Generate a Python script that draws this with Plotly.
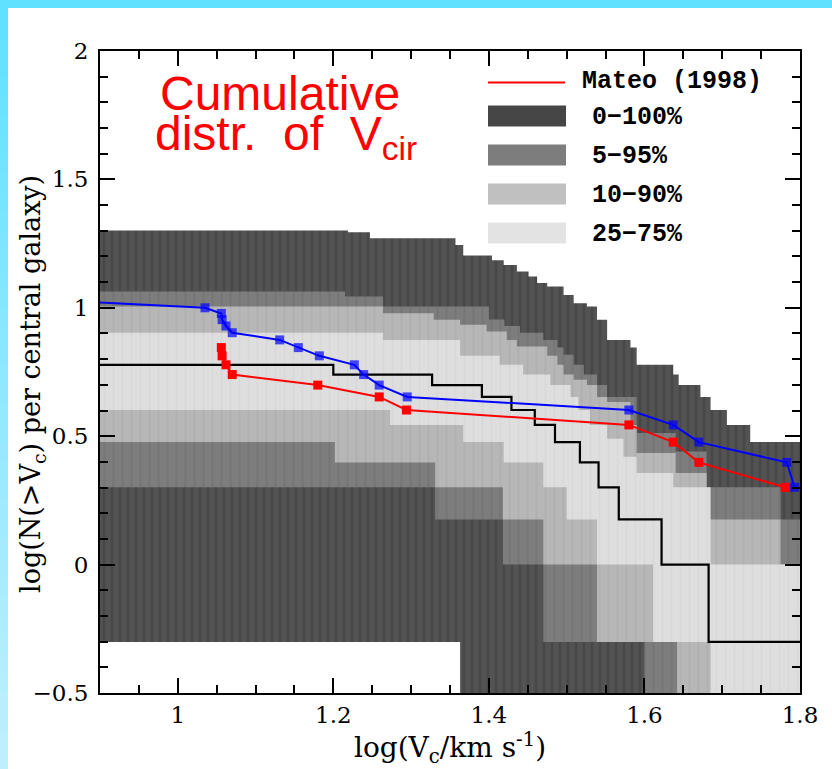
import plotly.graph_objects as go

# ---------------- data ----------------
# Percentile bands of the cumulative distribution, as step functions:
# value holds from x_start[i] to x_start[i+1] (last one to the axis end).
band_labels = ["0\u2212100%", "5\u221295%", "10\u221290%", "25\u221275%"]
band_colors = ["#535353", "#7d7d7d", "#b7b7b7", "#dedede"]
stripe_colors = ["#3d3d3d", "#6f6f6f", "#a9a9a9", "#d2d2d2"]
legend_colors = ["#464646", "#7d7d7d", "#c0c0c0", "#e3e3e3"]

upper_0_x = [0.9, 1.219, 1.247, 1.357, 1.367, 1.404, 1.419, 1.436, 1.451, 1.462, 1.475,
             1.496, 1.509, 1.526, 1.539, 1.552, 1.582, 1.590, 1.637, 1.644, 1.672, 1.685,
             1.706, 1.736]
upper_0_y = [1.301, 1.294, 1.271, 1.245, 1.204, 1.185, 1.167, 1.141, 1.122, 1.097, 1.083,
             1.050, 1.018, 1.005, 0.953, 0.875, 0.845, 0.778, 0.740, 0.699, 0.653, 0.602,
             0.544, 0.477]
lower_0_x = [0.9, 1.363]
lower_0_y = [-0.301, -1.0]

upper_5_x = [0.9, 1.215, 1.264, 1.400, 1.420, 1.440, 1.470, 1.488, 1.496, 1.509, 1.522,
             1.539, 1.552, 1.590, 1.640, 1.680, 1.775]
upper_5_y = [1.063, 1.044, 1.005, 0.954, 0.929, 0.903, 0.875, 0.845, 0.817, 0.778, 0.740,
             0.699, 0.653, 0.512, 0.440, 0.301, 0.176]
lower_5_x = [0.9, 1.331, 1.418, 1.470, 1.600]
lower_5_y = [0.301, 0.176, 0.0, -0.301, -1.0]

upper_10_x = [0.9, 1.264, 1.329, 1.363, 1.397, 1.423, 1.436, 1.475, 1.488, 1.496, 1.509,
              1.526, 1.539, 1.552, 1.582, 1.590, 1.640, 1.680, 1.775]
upper_10_y = [1.005, 0.979, 0.953, 0.934, 0.908, 0.875, 0.849, 0.813, 0.778, 0.740, 0.720,
              0.699, 0.653, 0.633, 0.544, 0.435, 0.357, 0.176, 0.0]
lower_10_x = [0.9, 1.202, 1.331, 1.418, 1.470, 1.539, 1.642]
lower_10_y = [0.477, 0.398, 0.301, 0.176, 0.0, -0.301, -1.0]

upper_25_x = [0.9, 1.264, 1.363, 1.414, 1.444, 1.479, 1.505, 1.515, 1.530, 1.552, 1.573,
              1.590, 1.637, 1.685]
upper_25_y = [0.903, 0.875, 0.813, 0.778, 0.740, 0.699, 0.653, 0.602, 0.544, 0.490, 0.420,
              0.357, 0.301, 0.0]
lower_25_x = [0.9, 1.273, 1.367, 1.419, 1.470, 1.500, 1.539, 1.611, 1.685]
lower_25_y = [0.602, 0.544, 0.477, 0.398, 0.301, 0.176, 0.0, -0.301, -1.0]

# Black step line
step_x = [0.9, 1.2, 1.327, 1.391, 1.429, 1.459, 1.485, 1.517, 1.541, 1.567, 1.622, 1.6825]
step_y = [0.778, 0.740, 0.699, 0.653, 0.602, 0.544, 0.477, 0.398, 0.301, 0.176, 0.0, -0.301]

# Mateo (1998) (red)
mateo_x = [1.056, 1.057, 1.062, 1.070, 1.180, 1.259, 1.294, 1.580, 1.637, 1.670, 1.781]
mateo_y = [0.845, 0.813, 0.778, 0.740, 0.699, 0.653, 0.602, 0.544, 0.477, 0.398, 0.301]

# Blue series
blue_x = [0.9, 1.035, 1.056, 1.057, 1.062, 1.070, 1.131, 1.155, 1.182, 1.227, 1.239,
          1.259, 1.295, 1.580, 1.637, 1.670, 1.783, 1.793]
blue_y = [1.021, 1.000, 0.978, 0.954, 0.929, 0.903, 0.875, 0.845, 0.813, 0.778, 0.740,
          0.699, 0.653, 0.602, 0.544, 0.477, 0.398, 0.301]

x_tick_vals = [1.0, 1.2, 1.4, 1.6, 1.8]
x_tick_text = ["1", "1.2", "1.4", "1.6", "1.8"]
y_tick_vals = [-0.5, 0, 0.5, 1, 1.5, 2]
y_tick_text = ["\u22120.5", "0", "0.5", "1", "1.5", "2"]

X_MIN, X_MAX = 0.9, 1.8
Y_MIN, Y_MAX = -0.5, 2.0

W, H = 832, 769
ML, MR, MT, MB = 100, 32, 51, 76
TICK_COLOR = "black"

# ---------------- figure ----------------
def step_path(xs, ys, x_end):
    px, py = [], []
    for i in range(len(xs)):
        x_next = xs[i + 1] if i + 1 < len(xs) else x_end
        px += [xs[i], x_next]
        py += [ys[i], ys[i]]
    return px, py

bands = [
    (upper_0_x, upper_0_y, lower_0_x, lower_0_y),
    (upper_5_x, upper_5_y, lower_5_x, lower_5_y),
    (upper_10_x, upper_10_y, lower_10_x, lower_10_y),
    (upper_25_x, upper_25_y, lower_25_x, lower_25_y),
]
stripe_size = [8, 9, 9, 9]
stripe_solid = [0.35, 0.25, 0.2, 0.2]

fig = go.Figure()
for i, (ux, uy, lx, ly) in enumerate(bands):
    pux, puy = step_path(ux, uy, X_MAX)
    plx, ply = step_path(lx, ly, X_MAX)
    fig.add_trace(go.Scatter(
        x=pux + plx[::-1], y=puy + ply[::-1],
        mode="lines", line=dict(width=0), fill="toself",
        fillcolor=band_colors[i],
        fillpattern=dict(shape="|", size=stripe_size[i], solidity=stripe_solid[i],
                         fgcolor=stripe_colors[i], bgcolor=band_colors[i]),
        hoverinfo="skip", showlegend=False, name=band_labels[i]))

fig.add_trace(go.Scatter(
    x=step_x + [X_MAX], y=step_y + [step_y[-1]], mode="lines",
    line=dict(color="black", width=2.2, shape="hv"), showlegend=False))

fig.add_trace(go.Scatter(
    x=mateo_x, y=mateo_y, mode="lines+markers",
    line=dict(color="#ff0000", width=2),
    marker=dict(symbol="square", size=9, color="#ff0000", line=dict(width=0)),
    name="Mateo (1998)", showlegend=False))

fig.add_trace(go.Scatter(
    x=blue_x, y=blue_y, mode="lines+markers",
    line=dict(color="#0000ff", width=2),
    marker=dict(symbol="square", size=[0] + [9] * (len(blue_x) - 1), color="#0000ff",
                line=dict(width=0)),
    showlegend=False))

shapes = []
# cyan frame: top bar + left bar with a vertical gradient
shapes.append(dict(type="rect", xref="paper", yref="paper", xsizemode="pixel", ysizemode="pixel",
                   xanchor=0, yanchor=1, x0=-ML, x1=W - ML, y0=MT, y1=MT - 8,
                   fillcolor="#5fe1ff", line=dict(width=0)))
n_grad = 40
c_top = (0x5f, 0xe1, 0xff)
c_bot = (0xbf, 0xef, 0xff)
for k in range(n_grad):
    t = k / (n_grad - 1)
    col = "rgb(%d,%d,%d)" % tuple(round(a + (b - a) * t) for a, b in zip(c_top, c_bot))
    y_top = MT - H * k / n_grad
    y_bot = MT - H * (k + 1) / n_grad - 1
    shapes.append(dict(type="rect", xref="paper", yref="paper", xsizemode="pixel",
                       ysizemode="pixel", xanchor=0, yanchor=1, x0=-ML, x1=-ML + 8,
                       y0=y_top, y1=y_bot, fillcolor=col, line=dict(width=0)))

# hand-drawn legend
def px_shape(**kw):
    d = dict(xref="paper", yref="paper", xsizemode="pixel", ysizemode="pixel", xanchor=0, yanchor=1)
    d.update(kw)
    return d

shapes.append(px_shape(type="line", x0=488 - ML, x1=565 - ML, y0=MT - 82.5, y1=MT - 82.5,
                       line=dict(color="#ff0000", width=2)))
row_centers = [116, 155, 194, 233]
for i, yc in enumerate(row_centers):
    shapes.append(px_shape(type="rect", x0=488 - ML, x1=566 - ML, y0=MT - (yc - 10.5),
                           y1=MT - (yc + 10.5), fillcolor=legend_colors[i], line=dict(width=0)))

annotations = []
leg_font = dict(family="Liberation Mono", size=25, color="black")
annotations.append(dict(xref="paper", yref="paper", x=0, y=1, xshift=580 - ML, yshift=MT - 81,
                        text="<b>Mateo (1998)</b>", showarrow=False, xanchor="left",
                        yanchor="middle", font=leg_font))
for i, yc in enumerate(row_centers):
    annotations.append(dict(xref="paper", yref="paper", x=0, y=1, xshift=590 - ML,
                            yshift=MT - (yc + 1), text="<b>" + band_labels[i] + "</b>",
                            showarrow=False, xanchor="left", yanchor="middle", font=leg_font))

red_font = dict(family="Liberation Sans", size=48, color="#ff0000")
annotations.append(dict(xref="paper", yref="paper", x=0, y=1, xshift=158 - ML, yshift=MT - 93,
                        text="Cumulative", showarrow=False, xanchor="left", yanchor="middle",
                        font=red_font))
annotations.append(dict(xref="paper", yref="paper", x=0, y=1, xshift=153 - ML, yshift=MT - 137,
                        text="distr.\u00a0\u00a0of\u00a0\u00a0V<sub>cir</sub>", showarrow=False,
                        xanchor="left", yanchor="middle", font=red_font))

# y-axis title (rotated annotation so that it sits like the original)
annotations.append(dict(xref="paper", yref="paper", x=0, y=1, xshift=32 - ML, yshift=MT - 384,
                        text="log(N(>V<sub>c</sub>) per central galaxy)", textangle=-90,
                        showarrow=False, xanchor="center", yanchor="middle",
                        font=dict(family="DejaVu Serif", size=27, color="black")))

fig.update_layout(
    width=W, height=H,
    margin=dict(l=ML, r=MR, t=MT, b=MB),
    plot_bgcolor="white",
    showlegend=False,
    shapes=shapes, annotations=annotations,
)
fig.update_xaxes(range=[X_MIN, X_MAX], tickmode="array", tickvals=x_tick_vals,
                 ticktext=x_tick_text, layer="above traces",
                 ticks="inside", ticklen=15, tickwidth=1.5, tickcolor=TICK_COLOR,
                 showline=True, linecolor="black", linewidth=2, mirror="allticks",
                 showgrid=False, zeroline=False,
                 minor=dict(tick0=0.9, dtick=0.05, ticks="inside", ticklen=8, tickwidth=1.5,
                            tickcolor=TICK_COLOR),
                 tickfont=dict(family="DejaVu Serif", size=23, color="black"),
                 title=dict(text="log(V<sub>c</sub>/km s<sup>-1</sup>)",
                            font=dict(family="DejaVu Serif", size=28, color="black"),
                            standoff=10))
fig.update_yaxes(range=[Y_MIN, Y_MAX], tickmode="array", tickvals=y_tick_vals,
                 ticktext=y_tick_text, ticklabelstandoff=5, layer="above traces",
                 ticks="inside", ticklen=15, tickwidth=1.5, tickcolor=TICK_COLOR,
                 showline=True, linecolor="black", linewidth=2, mirror="allticks",
                 showgrid=False, zeroline=False,
                 minor=dict(tick0=0, dtick=0.1, ticks="inside", ticklen=8, tickwidth=1.5,
                            tickcolor=TICK_COLOR),
                 tickfont=dict(family="DejaVu Serif", size=23, color="black"))

fig.write_html("out.html")
